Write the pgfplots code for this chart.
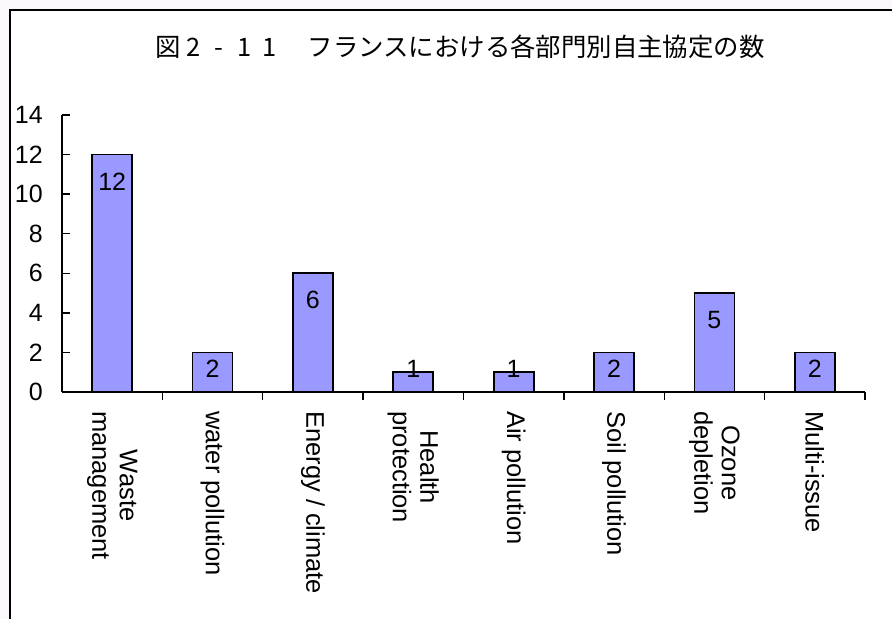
\documentclass[border=0pt]{standalone}
\usepackage{fontspec}
\setmainfont{Liberation Sans}
\newfontfamily\jp{Noto Sans CJK JP}
\usepackage{pgfplots}
\pgfplotsset{compat=1.18}
\usepackage{pgfplotstable}
\definecolor{barblue}{RGB}{153,153,255}
\definecolor{pagebg}{RGB}{251,248,252}

% number of voluntary agreements per sector
\pgfplotstableread{
x y
0 12
1 2
2 6
3 1
4 1
5 2
6 5
7 2
}\counts

\newcommand\cell[1]{\makebox[1em][c]{#1}}

\begin{document}
\begin{tikzpicture}[x=1pt,y=1pt]
  \path[use as bounding box] (0,0) rectangle (892,619);
  \fill[pagebg] (0,0) rectangle (892,619);
  \fill[white] (10,0) rectangle (892,609);
  \draw[line width=2pt] (10,0) -- (10,609) -- (892,609);
  \node[font=\jp\fontsize{25.4}{30}\selectfont, inner sep=0pt] at (460,572)
    {図\cell{2}\cell{-}\cell{1}\cell{1}\cell{}フランスにおける各部門別自主協定の数};
  \begin{axis}[
    at={(62pt,227pt)}, anchor=south west, scale only axis,
    width=803pt, height=277pt,
    xmin=-0.5, xmax=7.5, ymin=0, ymax=14,
    axis x line*=bottom, axis y line*=left,
    axis line style={line width=1.5pt, -},
    clip=false,
    tick align=inside,
    major tick length=8pt, minor tick length=8pt,
    tick style={black, line width=1.3pt},
    xtick={0,...,7},
    minor xtick={0.5,1.5,...,7.5},
    every major x tick/.append style={draw=none},
    xticklabels={{Waste\\management}, water pollution, Energy / climate,
      {Health\\protection}, Air pollution, Soil pollution,
      {Ozone\\depletion}, Multi-issue},
    xticklabel style={rotate=-90, anchor=west, align=center, inner sep=0pt,
      font=\fontsize{25.5}{27.5}\selectfont},
    xticklabel shift=11pt,
    ytick={0,2,...,14},
    yticklabel style={inner sep=0pt, xshift=-19pt,
      font=\fontsize{25}{30}\selectfont},
    /pgf/number format/assume math mode=true,
    ybar, bar width=40pt,
  ]
    \addplot[fill=barblue, draw=black, line width=1.7pt,
      visualization depends on={\thisrow{y} \as \rawy},
      point meta=y,
      nodes near coords,
      every node near coord/.append style={anchor=center,
        yshift={max(-27,23-19.79*\rawy)},
        font=\fontsize{25}{30}\selectfont,
        /pgf/number format/assume math mode=true},
    ] table[x=x, y=y] {\counts};
  \end{axis}
\end{tikzpicture}
\end{document}
